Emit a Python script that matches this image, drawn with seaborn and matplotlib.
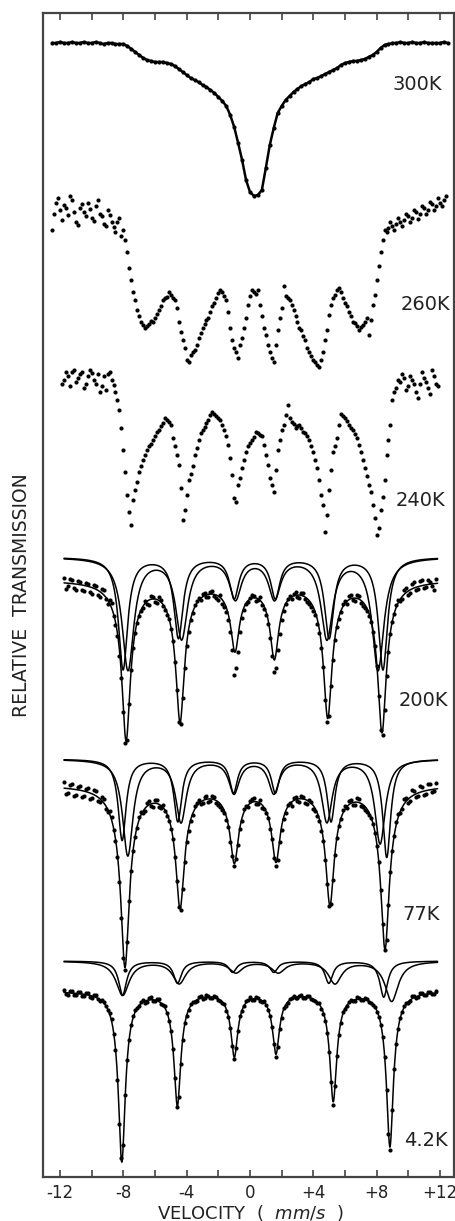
import numpy as np
import pandas as pd
import matplotlib
matplotlib.use("Agg")
from matplotlib import pyplot as plt
from matplotlib.ticker import MultipleLocator
import seaborn as sns

# Mossbauer spectra, stacked. y values are vertical positions in the stack
# (larger = further down the sheet), velocity channels are evenly spaced.
step = 0.25

t300 = [43, 43, 42,
        43, 43, 42, 43, 43, 42, 43, 43, 42, 43, 44, 43, 43, 44, 44, 44, 46, 49, 52, 55,
        58, 60, 61, 62, 62, 62, 63, 64, 66, 69, 72, 75, 78, 80, 82, 85, 87, 90, 93, 97,
        101, 106, 115, 127, 143, 160, 180, 192, 196, 195, 190, 168, 145, 128, 113, 106,
        100, 96, 92, 89, 86, 84, 82, 79, 78, 76, 74, 72, 70, 68, 65, 63, 62, 61, 61, 60,
        59, 57, 55, 52, 48, 45, 44, 43, 43, 42, 43, 43, 42, 43, 43, 42, 43, 43, 43,
        43, 42, 43]

t260 = [230, 203, 210,
        205, 215, 200, 222, 208, 212, 203, 218, 206, 214, 224, 210, 222, 232, 218, 230,
        252, 280, 300, 316, 325, 326, 321, 318, 310, 300, 297, 295, 300, 322, 340, 360,
        355, 350, 338, 328, 320, 312, 303, 293, 292, 300, 328, 348, 358, 338, 318, 296,
        292, 290, 316, 335, 352, 362, 330, 308, 296, 300, 310, 322, 330, 340, 352, 360,
        365, 360, 340, 315, 298, 290, 292, 303, 312, 322, 326, 327, 322, 335, 305, 280,
        252, 230, 228, 226, 224, 222, 220, 216, 218, 212, 214, 208, 210, 204, 206,
        203, 200]
h260 = [214, 198, 220, 208, 196, 212, 225, 204, 216, 209, 221, 200, 216, 226, 215, 227,
        222, 236, 240, 268, 292, 310, 322, 328, 324, 322, 314, 306, 298, 292, 298, 308,
        332, 348, 362, 352, 345, 333, 324, 318, 306, 298, 290, 296, 312, 340, 352, 345,
        328, 305, 290, 294, 305, 328, 345, 358, 345, 318, 286, 298, 305, 316, 328, 336,
        348, 356, 362, 367, 352, 330, 305, 295, 288, 298, 306, 316, 323, 330, 325, 318,
        320, 295, 266, 240, 232, 222, 230, 218, 226, 214, 222, 210, 219, 206, 214, 202,
        210, 198, 206, 196]

t240 = [380, 376, 372, 382, 374, 388, 376, 373, 384, 392, 376, 374, 380, 392, 410, 450,
        495, 525, 490, 472, 460, 450, 444, 436, 430, 423, 420, 425, 446, 465, 520, 495,
        474, 455, 440, 430, 423, 415, 414, 418, 425, 436, 458, 498, 485, 468, 452, 443,
        437, 433, 436, 455, 478, 492, 450, 430, 415, 418, 424, 426, 428, 433, 440, 452,
        468, 495, 532, 490, 452, 438, 414, 418, 425, 430, 438, 452, 468, 485, 505, 535,
        510, 480, 440, 400, 388, 382, 378, 386, 380, 392, 384, 378, 388, 370, 384]
h240 = [384, 372, 386, 370, 378, 372, 384, 370, 380, 374, 386, 390, 372, 385, 400, 428,
        472, 512, 500, 482, 466, 455, 446, 440, 432, 426, 418, 422, 438, 455, 488, 510,
        480, 466, 448, 433, 427, 420, 412, 416, 420, 430, 445, 475, 502, 478, 460, 446,
        440, 432, 435, 445, 465, 485, 470, 440, 425, 405, 422, 428, 425, 432, 436, 446,
        460, 480, 505, 515, 470, 446, 425, 416, 421, 428, 434, 445, 460, 476, 492, 518,
        528, 497, 455, 425, 392, 380, 374, 390, 376, 384, 398, 372, 382, 394, 376, 386]

t200 = [578, 586, 580, 590, 582, 591, 584, 594, 586, 597, 590, 604, 603, 625, 656, 712,
        740, 670, 633, 616, 608, 604, 596, 602, 597, 606, 615, 629, 662, 722, 698, 646,
        620, 605, 598, 594, 597, 592, 596, 600, 604, 612, 632, 675, 652, 618, 604, 598,
        596, 600, 605, 615, 638, 672, 650, 620, 604, 596, 594, 597, 593, 599, 604, 611,
        624, 648, 700, 716, 660, 627, 612, 601, 596, 600, 595, 603, 608, 616, 632, 666,
        730, 710, 652, 622, 605, 601, 590, 595, 584, 590, 581, 588, 580, 586, 579]
h200 = [589, 579, 588, 581, 590, 583, 592, 585, 595, 589, 599, 600, 616, 636, 678, 743,
        704, 648, 623, 611, 601, 605, 597, 603, 600, 610, 619, 641, 690, 724, 668, 632,
        613, 601, 600, 593, 597, 591, 598, 595, 607, 620, 650, 668, 632, 610, 602, 595,
        601, 597, 609, 624, 656, 668, 634, 611, 599, 599, 592, 598, 593, 602, 607, 615,
        633, 667, 722, 686, 640, 619, 604, 604, 595, 601, 596, 606, 611, 622, 646, 696,
        735, 676, 634, 614, 600, 599, 588, 593, 582, 589, 580, 587, 582, 590]

t77 = [782, 793, 784, 795, 786, 796, 788, 798, 791, 802, 799, 812, 817, 841, 882, 958,
       942, 871, 837, 817, 813, 803, 806, 800, 807, 805, 816, 829, 857, 907, 889, 842,
       821, 806, 800, 803, 796, 801, 797, 805, 810, 820, 842, 866, 845, 821, 806, 801,
       798, 804, 808, 813, 829, 858, 860, 830, 813, 803, 798, 801, 796, 803, 800, 809,
       816, 831, 860, 906, 880, 838, 819, 806, 801, 805, 798, 806, 810, 815, 824, 846,
       890, 950, 905, 851, 822, 813, 799, 803, 790, 797, 786, 795, 784, 792, 783]
h77 = [794, 785, 796, 787, 797, 789, 799, 790, 801, 797, 809, 811, 830, 857, 918, 970,
       901, 851, 828, 812, 811, 801, 807, 800, 808, 811, 821, 839, 881, 910, 862, 831,
       815, 803, 804, 797, 802, 796, 803, 807, 813, 827, 856, 859, 829, 809, 807, 799,
       804, 800, 809, 818, 839, 866, 842, 819, 805, 806, 797, 802, 797, 804, 802, 811,
       821, 841, 884, 904, 855, 826, 810, 808, 800, 805, 799, 807, 812, 818, 833, 862,
       924, 940, 872, 836, 814, 809, 798, 801, 791, 796, 787, 794, 784, 791]

t4 = [990, 995, 991, 995, 992, 996, 993, 998, 995, 1001, 1002, 1010, 1019, 1050, 1124, 1145,
      1060, 1025, 1010, 1006, 1000, 1002, 997, 1001, 999, 1005, 1013, 1031, 1078, 1097, 1040, 1016,
      1004, 1002, 997, 999, 995, 998, 996, 1000, 1003, 1011, 1028, 1059, 1031, 1011, 1001, 997,
      1000, 998, 1002, 1005, 1016, 1044, 1047, 1018, 1006, 999, 996, 998, 995, 998, 996, 1000,
      1003, 1009, 1021, 1052, 1105, 1056, 1023, 1009, 1002, 1001, 997, 1000, 998, 1002, 1005, 1012,
      1025, 1057, 1134, 1110, 1044, 1018, 1006, 1003, 996, 998, 993, 995, 992, 994, 991]
h4 = [994, 991, 995, 992, 996, 993, 997, 995, 999, 1000, 1006, 1013, 1034, 1080, 1158, 1095,
      1040, 1016, 1008, 1002, 1003, 998, 1001, 999, 1004, 1006, 1021, 1049, 1107, 1064, 1023, 1010,
      1002, 1001, 996, 998, 996, 998, 997, 1001, 1004, 1017, 1046, 1048, 1016, 1006, 1000, 1000,
      997, 1001, 1001, 1010, 1027, 1057, 1029, 1008, 1003, 998, 998, 996, 998, 996, 999, 1001,
      1003, 1014, 1033, 1082, 1086, 1035, 1012, 1006, 1000, 1001, 998, 1000, 999, 1003, 1007, 1017,
      1037, 1090, 1150, 1069, 1029, 1012, 1003, 1001, 996, 997, 993, 995, 992, 994]

# (first channel velocity, values) for every series of points
series = [("300K", -12.5, t300),
          ("260K", -12.5, t260), ("260K", -12.375, h260),
          ("240K", -11.75, t240), ("240K", -11.875, h240),
          ("200K", -11.75, t200), ("200K", -11.625, h200),
          ("77K", -11.75, t77), ("77K", -11.625, h77),
          ("4.2K", -11.75, t4), ("4.2K", -11.625, h4)]

# fitted sextets: line positions (mm/s), depths, half widths
fit_base = {"200K": 580, "77K": 785, "4.2K": 991}
fit_pos = {"200K": [-7.83, -4.42, -0.95, 1.54, 4.91, 8.34],
           "77K": [-7.9, -4.42, -0.99, 1.64, 5.05, 8.53],
           "4.2K": [-8.1, -4.59, -0.99, 1.64, 5.26, 8.84]}
fit_depth = {"200K": [158, 138, 66, 74, 134, 150],
             "77K": [180, 119, 73, 72, 116, 162],
             "4.2K": [170, 113, 64, 61, 109, 155]}
fit_width = {"200K": (0.3, 0.8), "77K": (0.3, 0.8), "4.2K": (0.24, 0.5)}

# the two sub-spectra drawn above each fitted spectrum
sub_base = {"200K": 557, "77K": 759, "4.2K": 961}
sub_a_pos = {"200K": [-8.02, -4.52, -1.0, 1.6, 5.0, 8.4],
             "77K": [-8.08, -4.56, -1.04, 1.6, 5.12, 8.64],
             "4.2K": [-8.05, -4.58, -1.10, 1.50, 4.98, 8.45]}
sub_b_pos = {"200K": [-7.71, -4.32, -0.92, 1.55, 4.86, 8.09],
             "77K": [-7.72, -4.36, -1.01, 1.51, 4.86, 8.22],
             "4.2K": [-8.05, -4.47, -0.89, 1.79, 5.37, 8.95]}
sub_a_depth = {"200K": [112, 80, 40, 40, 80, 112],
               "77K": [81, 62, 33, 33, 62, 98],
               "4.2K": [34, 22, 11, 11, 22, 36]}
sub_b_depth = {"200K": [112, 80, 40, 40, 80, 112],
               "77K": [96, 62, 33, 33, 62, 84],
               "4.2K": [34, 22, 11, 11, 22, 40]}
sub_width = {"200K": (0.35, 0.45), "77K": (0.3, 0.4), "4.2K": (0.3, 0.5)}

labels = ["300K", "260K", "240K", "200K", "77K", "4.2K"]
label_x = [12.13, 12.63, 12.32, 12.51, 12.0, 12.51]
label_y = [85, 305, 500, 700, 915, 1141]


def lines(v, pos, depth, g, wing=None, frac=0.0):
    out = np.zeros_like(v)
    for p, d in zip(pos, depth):
        x = v - p
        out += d * (1 - frac) / (1 + (x / g) ** 2)
        if wing:
            out += d * frac / (1 + (x / wing) ** 2)
    return out


pts = pd.concat([pd.DataFrame({"v": v0 + step * np.arange(len(vals)), "y": vals, "T": T})
                 for T, v0, vals in series])

vv = np.linspace(-11.75, 11.85, 1500)
curves = []
for T in ["200K", "77K", "4.2K"]:
    g, w = fit_width[T]
    y = fit_base[T] + lines(vv, fit_pos[T], fit_depth[T], g, w, 0.2)
    curves.append(pd.DataFrame({"v": vv, "y": y, "c": T + " fit"}))
    ga, gb = sub_width[T]
    ya = sub_base[T] + lines(vv, sub_a_pos[T], sub_a_depth[T], ga)
    yb = sub_base[T] + lines(vv, sub_b_pos[T], sub_b_depth[T], gb)
    curves.append(pd.DataFrame({"v": vv, "y": ya, "c": T + " A"}))
    curves.append(pd.DataFrame({"v": vv, "y": yb, "c": T + " B"}))
curves = pd.concat(curves)

sns.set_style("ticks")
plt.rcParams["font.family"] = ["DejaVu Sans"]

fig = plt.figure(figsize=(4.56, 12.21), dpi=100)
ax = fig.add_axes([43 / 456, 1 - 1177 / 1221, 411 / 456, 1164 / 1221])

sns.lineplot(data=curves, x="v", y="y", units="c", estimator=None, sort=False,
             color="black", lw=1.1, ax=ax)
sns.lineplot(data=pts[pts["T"] == "300K"], x="v", y="y", estimator=None, sort=False,
             color="black", lw=1.8, ax=ax)
sns.scatterplot(data=pts, x="v", y="y", color="black", s=9, linewidth=0, ax=ax)

for t, x, y in zip(labels, label_x, label_y):
    ax.text(x, y, t, ha="right", va="center", fontsize=14, color="#222222")

ax.set_xlim(-13.08, 12.89)
ax.set_ylim(1177, 13)
ax.set_xlabel("")
ax.set_ylabel("")
ax.set_yticks([])
ax.set_xticks(np.arange(-12, 13, 4))
ax.set_xticklabels(["-12", "-8", "-4", "0", "+4", "+8", "+12"])
ax.xaxis.set_minor_locator(MultipleLocator(2))
ax.tick_params(axis="x", which="both", direction="in", top=True, length=5, width=1.2,
               color="#444444", labelsize=12, pad=5, labelcolor="#222222")
for s in ax.spines.values():
    s.set_color("#444444")
    s.set_linewidth(1.6)

fig.text(251 / 456, 1 - 1213 / 1221, "VELOCITY  (  $\\mathit{mm/s}$  )", ha="center",
         va="center", fontsize=13, color="#222222")
fig.text(22 / 456, 1 - 595 / 1221, "RELATIVE  TRANSMISSION", rotation=90, ha="center",
         va="center", fontsize=13.5, color="#222222")

fig.savefig("out.png", dpi=100)
